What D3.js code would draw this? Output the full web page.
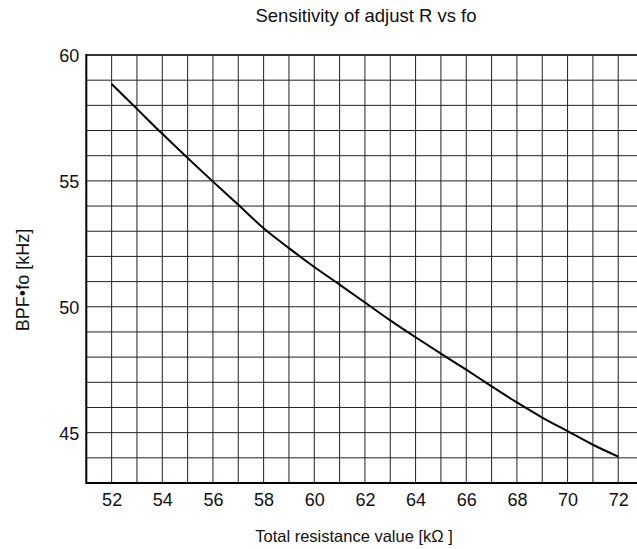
<!DOCTYPE html>
<html>
<head>
<meta charset="utf-8">
<script src="https://cdn.jsdelivr.net/npm/d3@7"></script>
<style>
  html, body { margin: 0; padding: 0; background: #fff; }
  svg { display: block; }
  text { font-family: "Liberation Sans", Arial, Helvetica, sans-serif; fill: #111; }
</style>
</head>
<body>
<svg id="chart" width="637" height="549"></svg>
<script>
// ---- data ----
const resistance = [52, 53, 54, 55, 56, 57, 58, 59, 60, 61, 62, 63, 64, 65, 66, 67, 68, 69, 70, 71, 72];
const frequency = [58.85, 57.86, 56.87, 55.91, 54.97, 54.05, 53.12, 52.33, 51.58, 50.88, 50.17, 49.46, 48.79, 48.14, 47.5, 46.84, 46.2, 45.6, 45.06, 44.52, 44.05];
const xTickValues = [52, 54, 56, 58, 60, 62, 64, 66, 68, 70, 72];
const yTickValues = [45, 50, 55, 60];
const xGridValues = d3.range(52, 74, 1);
const yGridValues = d3.range(44, 61, 1);
const titleText = "Sensitivity of adjust R vs fo";
const xLabelText = "Total resistance value [kΩ ]";
const yLabelText = "BPF•fo [kHz]";

// ---- layout ----
const svg = d3.select("#chart");
const plotLeft = 86.3, plotTop = 55, plotBottom = 483;
const x = d3.scaleLinear().domain([51, 73]).range([plotLeft, plotLeft + 22 * 25.33]);
const y = d3.scaleLinear().domain([43, 60]).range([plotBottom, plotTop]);

// grid
svg.append("g").selectAll("line").data(xGridValues).join("line")
  .attr("x1", d => x(d)).attr("x2", d => x(d))
  .attr("y1", plotTop).attr("y2", plotBottom)
  .attr("stroke", "#222").attr("stroke-width", 1);
svg.append("g").selectAll("line").data(yGridValues).join("line")
  .attr("x1", plotLeft).attr("x2", 637)
  .attr("y1", d => y(d)).attr("y2", d => y(d))
  .attr("stroke", "#222").attr("stroke-width", 1);

// frame
svg.append("line").attr("x1", plotLeft).attr("x2", 637).attr("y1", plotTop).attr("y2", plotTop)
  .attr("stroke", "#333").attr("stroke-width", 2);
svg.append("line").attr("x1", plotLeft).attr("x2", 637).attr("y1", plotBottom).attr("y2", plotBottom)
  .attr("stroke", "#000").attr("stroke-width", 2);
svg.append("line").attr("x1", plotLeft).attr("x2", plotLeft).attr("y1", plotTop - 1).attr("y2", plotBottom + 1)
  .attr("stroke", "#000").attr("stroke-width", 2);

// curve
const line = d3.line().x((d, i) => x(resistance[i])).y(d => y(d)).curve(d3.curveCatmullRom.alpha(0.5));
svg.append("path").datum(frequency)
  .attr("d", line).attr("fill", "none").attr("stroke", "#000").attr("stroke-width", 2);

// axes (labels only)
const xAxis = d3.axisBottom(x).tickValues(xTickValues).tickSize(0).tickPadding(0).tickFormat(d3.format("d"));
const gx = svg.append("g").attr("transform", `translate(0,${plotBottom})`).call(xAxis);
gx.select(".domain").remove();
gx.selectAll("text").attr("dy", null).attr("y", 22.5).attr("font-size", 18)
  .attr("font-family", "Liberation Sans, Arial, sans-serif").attr("fill", "#111");

const yAxis = d3.axisLeft(y).tickValues(yTickValues).tickSize(0).tickPadding(0).tickFormat(d3.format("d"));
const gy = svg.append("g").attr("transform", `translate(${plotLeft - 7},0)`).call(yAxis);
gy.select(".domain").remove();
gy.selectAll("text").attr("dy", "0.36em").attr("font-size", 18)
  .attr("font-family", "Liberation Sans, Arial, sans-serif").attr("fill", "#111");

// titles
svg.append("text").attr("x", 366).attr("y", 22).attr("text-anchor", "middle")
  .attr("font-size", 18.5).text(titleText);
svg.append("text").attr("x", 354).attr("y", 542).attr("text-anchor", "middle")
  .attr("font-size", 16.5).text(xLabelText);
svg.append("text").attr("transform", "translate(29,280) rotate(-90)").attr("text-anchor", "middle")
  .attr("font-size", 18).text(yLabelText);
</script>
</body>
</html>
